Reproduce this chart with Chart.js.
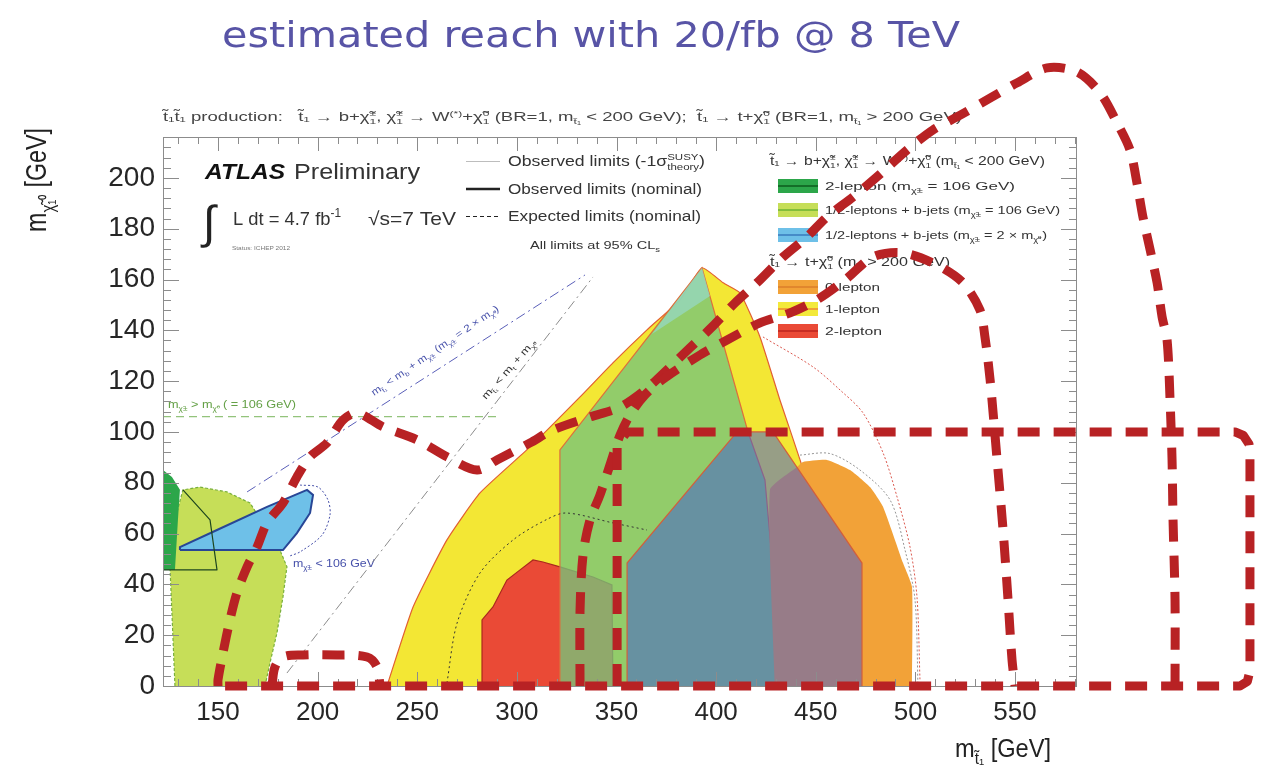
<!DOCTYPE html>
<html>
<head>
<meta charset="utf-8">
<title>stop reach 8 TeV</title>
<script src="https://cdn.jsdelivr.net/npm/chart.js@4.4.1/dist/chart.umd.min.js"></script>
<style>
html, body { margin: 0; padding: 0; background: #fff; }
canvas { display: block; }
</style>
</head>
<body>
<canvas id="reach-chart" width="1268" height="770"></canvas>
<script>
// axis ranges and tick labels
const xRange = [122.4, 581.1];
const yRange = [0, 216.1];
const xTicks = [150, 200, 250, 300, 350, 400, 450, 500, 550];
const yTicks = [0, 20, 40, 60, 80, 100, 120, 140, 160, 180, 200];

// t1 -> b + chargino corner (m_stop < 200)
const lightGreenLeft = [[128.4,0],[125.9,46.9],[128.4,65.4],[132.4,77.2],[141.0,78.3],[154.5,76.4],[166.1,72.0],[181.1,53.5],[184.6,46.9],[182.6,35.0],[179.6,20.9],[176.1,9.1],[173.6,0]];
const darkGreenLeft = [[122.4,85.0],[126.9,82.3],[130.9,77.2],[129.9,65.4],[128.4,45.7],[122.4,45.7]];
const blueLeft = [[130.9,53.5],[130.9,54.7],[149.5,61.4],[174.6,70.5],[194.7,77.2],[197.7,75.2],[196.2,68.1],[189.6,60.2],[182.6,53.5],[130.9,53.5]];
const blueLeftExpected = [[191.2,79.1],[200.2,78.3],[205.2,73.2],[206.2,67.3],[202.2,59.4],[191.2,52.8],[186.1,51.2]];
const blackLeftObserved = [[132.4,77.2],[146.0,65.4],[149.5,45.7],[122.4,45.7]];

// t1 -> t + neutralino (m_stop > 200)
const yellowT = [[234.8,0],[247.9,31.1],[264.9,57.5],[281.5,76.0],[306.6,94.1],[331.7,113.8],[348.2,127.2],[365.3,140.2],[381.9,152.0],[392.9,164.6],[403.5,158.7],[412.0,154.7],[422.0,137.4],[432.0,112.6],[442.1,89.0],[457.2,49.6],[467.2,0]];
const redT = [[282.5,0],[282.5,26.0],[288.0,31.1],[295.0,41.7],[301.6,45.7],[308.1,49.6],[313.1,48.8],[321.6,46.9],[338.2,42.9],[347.7,39.8],[348.2,0]];
const greenT = [[321.6,0],[321.6,92.9],[392.9,164.6],[416.0,100.0],[424.5,81.1],[433.6,0]];
const tealT = [[367.8,138.6],[392.9,164.6],[396.9,153.5]];
const orangeT = [[429.5,0],[427.0,77.2],[440.6,86.2],[443.6,88.2],[455.6,89.0],[467.2,85.0],[477.2,78.3],[483.8,70.5],[493.8,48.4],[498.3,39.0],[498.3,0]];
const overlayT = [[355.3,0],[355.3,48.4],[410.5,100.0],[428.5,100.0],[473.2,48.4],[473.2,0]];
const blackExpected = [[264.9,1.2],[270.0,24.8],[281.5,44.5],[298.1,57.5],[314.6,65.4],[324.7,68.1],[348.2,64.2],[365.3,61.4]];
const redExpected = [[423.5,137.4],[448.6,125.6],[462.2,116.5],[473.7,107.5],[483.8,91.7],[490.8,74.4],[497.3,54.7],[500.8,35.0],[502.3,2.4]];
const grayExpected = [[442.1,90.9],[457.0,91.5],[472.2,85.0],[487.3,73.2],[494.8,53.5],[499.8,33.9],[501.3,0]];

// kinematic / reference lines
const charginoLine = [[122.4,106],[291.0,106]];
const kinBLine = [[164.6,76.4],[334.2,161.8]];
const kinTLine = [[184.6,5.1],[338.2,161.0]];

// hand drawn 20/fb @ 8 TeV reach
const reachLoop = [[177.1,0],[178.6,7.5],[182.6,11.4],[192.7,12.2],[209.7,12.2],[224.8,11.4],[229.8,7.5],[231.3,0]];
const reachOuter = [[150,0],[150,2.4],[152.5,13.0],[156.0,26.0],[159.5,36.6],[164.6,46.9],[169.6,54.7],[174.6,64.2],[182.6,72.0],[189.6,82.3],[196.2,90.2],[204.7,95.7],[212.7,104.7],[219.8,107.5],[232.8,102.0],[249.9,96.9],[264.9,90.2],[280.0,85.0],[290.0,89.0],[306.6,95.7],[318.1,100.8],[336.7,105.9],[351.8,109.8],[364.3,116.5],[375.3,124.4],[386.9,133.1],[397.9,141.3],[409.5,150.8],[420.5,158.7],[433.6,168.9],[445.6,176.8],[455.6,184.6],[468.7,192.5],[480.7,200.4],[495.8,211.0],[508.8,218.9],[520.9,224.0],[535.9,230.7],[551.0,237.4],[566.1,243.3],[581.1,241.7],[592.7,233.5],[601.2,221.7],[607.7,211.0],[611.2,198.0],[614.2,184.6],[617.8,171.7],[621.3,158.7],[623.8,145.3],[626.3,136.2],[627.8,112.6],[628.8,89.0],[629.3,65.4],[630.3,33.9],[630.3,0]];
const reachInner = [[331.7,0],[331.7,29.9],[333.2,51.6],[336.7,65.4],[341.7,75.2],[346.7,87.0],[351.8,98.8],[356.8,106.7],[364.3,114.6],[374.3,121.3],[391.9,130.3],[405.5,136.2],[422.0,142.9],[437.1,146.9],[450.6,152.0],[464.7,159.8],[478.7,168.9],[493.8,170.5],[510.9,165.7],[523.9,158.7],[532.4,148.0],[534.9,137.4],[537.5,120.5],[541.0,89.0],[544.0,61.4],[546.5,33.9],[548.5,10.2],[550.0,0]];
const reachBox = [[350.3,0],[350.3,94.9],[355.3,100.0],[660.4,100.0],[664.6,98.6],[667.4,95.3],[667.9,92.0],[667.9,6.0],[666.6,1.8],[662.9,0],[150,0]];

const FONT = '"Liberation Sans", Arial, Helvetica, sans-serif';
const RED = 'rgb(184,34,36)';
const DASH = [22, 14];

function toPoints(list) {
    return list.map(p => ({x: p[0], y: p[1]}));
}

function area(list, fill, border, extra) {
    return Object.assign({
        data: toPoints(list),
        showLine: true,
        fill: 'shape',
        backgroundColor: fill,
        borderColor: border || 'rgba(0,0,0,0)',
        borderWidth: border ? 1.2 : 0,
        pointRadius: 0,
        tension: 0
    }, extra || {});
}

function curve(list, color, width, dash, extra) {
    return Object.assign({
        data: toPoints(list),
        showLine: true,
        fill: false,
        borderColor: color,
        borderWidth: width,
        borderDash: dash || [],
        borderJoinStyle: 'round',
        pointRadius: 0,
        tension: 0
    }, extra || {});
}

// small rich text: _{..} subscript, ^{..} superscript (stacks on previous sub)
function parseRich(str) {
    const out = [];
    let buf = '';
    let i = 0;
    while (i < str.length) {
        const c = str[i];
        if ((c === '_' || c === '^') && str[i + 1] === '{') {
            if (buf) out.push({t: buf, m: 0});
            buf = '';
            const j = str.indexOf('}', i);
            out.push({t: str.slice(i + 2, j), m: c === '_' ? -1 : 1});
            i = j + 1;
        } else {
            buf += c;
            i++;
        }
    }
    if (buf) out.push({t: buf, m: 0});
    return out;
}

function rich(ctx, str, x, y, opt) {
    const parts = parseRich(str);
    const style = opt.style || '';
    const fam = opt.family || FONT;
    const big = style + ' ' + opt.size + 'px ' + fam;
    const small = style + ' ' + (opt.size * 0.65).toFixed(1) + 'px ' + fam;
    ctx.save();
    ctx.translate(x, y);
    if (opt.angle) ctx.rotate(opt.angle);
    let w = 0;
    let lastSub = null;
    const items = [];
    parts.forEach(p => {
        ctx.font = p.m ? small : big;
        const pw = ctx.measureText(p.t).width;
        if (p.m === 1 && lastSub !== null) {
            items.push({p, x: lastSub});
            w = Math.max(w, lastSub + pw);
            lastSub = null;
        } else {
            items.push({p, x: w});
            lastSub = p.m === -1 ? w : null;
            w += pw;
        }
    });
    if (opt.width) ctx.scale(opt.width / w, 1);
    const x0 = opt.align === 'right' ? -w : (opt.align === 'center' ? -w / 2 : 0);
    ctx.fillStyle = opt.color || '#333';
    ctx.textBaseline = 'alphabetic';
    ctx.textAlign = 'left';
    items.forEach(it => {
        ctx.font = it.p.m ? small : big;
        const dy = it.p.m === -1 ? opt.size * 0.28 : (it.p.m === 1 ? -opt.size * 0.42 : 0);
        ctx.fillText(it.p.t, x0 + it.x, dy);
    });
    ctx.restore();
}

function drawFrame(chart) {
    const {ctx, chartArea: a, scales: {x, y}} = chart;
    ctx.save();
    ctx.strokeStyle = '#8c8c8c';
    ctx.lineWidth = 1;
    ctx.strokeRect(a.left + 0.5, a.top + 0.5, a.right - a.left - 1, a.bottom - a.top);
    ctx.beginPath();
    for (let v = 130; v <= xRange[1]; v += 10) {
        const px = Math.round(x.getPixelForValue(v)) + 0.5;
        const len = v % 50 === 0 ? 14 : 7;
        ctx.moveTo(px, a.bottom); ctx.lineTo(px, a.bottom - len);
        ctx.moveTo(px, a.top); ctx.lineTo(px, a.top + len);
    }
    for (let v = 0; v <= yRange[1]; v += 4) {
        const py = Math.round(y.getPixelForValue(v)) + 0.5;
        const len = v % 20 === 0 ? 16 : 8;
        ctx.moveTo(a.left, py); ctx.lineTo(a.left + len, py);
        ctx.moveTo(a.right, py); ctx.lineTo(a.right - len, py);
    }
    ctx.stroke();
    ctx.restore();
}

function legendBox(ctx, top, fill, line) {
    ctx.fillStyle = fill;
    ctx.fillRect(778, top, 40, 14);
    ctx.strokeStyle = line;
    ctx.lineWidth = 2;
    ctx.beginPath();
    ctx.moveTo(778, top + 7); ctx.lineTo(818, top + 7);
    ctx.stroke();
}

function drawInside(chart) {
    const ctx = chart.ctx;
    ctx.save();
    rich(ctx, 't̃₁t̃₁ production:   t̃₁ → b+χ̃_{1}^{±}, χ̃_{1}^{±} → W^{(*)}+χ̃_{1}^{0} (BR=1, m_{t̃₁} < 200 GeV);  t̃₁ → t+χ̃_{1}^{0} (BR=1, m_{t̃₁} > 200 GeV)', 163, 121, {size: 12, width: 799, color: '#444'});

    rich(ctx, 'ATLAS', 205, 179, {size: 22, style: 'italic bold', width: 80, color: '#111'});
    rich(ctx, 'Preliminary', 294, 179, {size: 22, width: 126, color: '#333'});
    rich(ctx, '∫', 203, 238, {size: 46, color: '#222'});
    rich(ctx, 'L dt = 4.7 fb^{-1}', 233, 225, {size: 19, width: 108, color: '#333'});
    rich(ctx, '√s=7 TeV', 368, 225, {size: 19, width: 88, color: '#333'});
    rich(ctx, 'Status: ICHEP 2012', 232, 250, {size: 6, width: 58, color: '#777'});

    // line style legend
    ctx.lineWidth = 1;
    ctx.strokeStyle = '#bdbdbd';
    ctx.beginPath(); ctx.moveTo(466, 161.5); ctx.lineTo(500, 161.5); ctx.stroke();
    ctx.lineWidth = 2.5;
    ctx.strokeStyle = '#222';
    ctx.beginPath(); ctx.moveTo(466, 189); ctx.lineTo(500, 189); ctx.stroke();
    ctx.lineWidth = 1;
    ctx.setLineDash([4, 3]);
    ctx.beginPath(); ctx.moveTo(466, 216.5); ctx.lineTo(500, 216.5); ctx.stroke();
    ctx.setLineDash([]);
    rich(ctx, 'Observed limits (-1σ_{theory}^{SUSY})', 508, 166, {size: 14, width: 197, color: '#333'});
    rich(ctx, 'Observed limits (nominal)', 508, 194, {size: 14, width: 194, color: '#333'});
    rich(ctx, 'Expected limits (nominal)', 508, 221, {size: 14, width: 193, color: '#333'});
    rich(ctx, 'All limits at 95% CL_{s}', 530, 249, {size: 11, width: 130, color: '#333'});

    // area legend
    rich(ctx, 't̃₁ → b+χ̃_{1}^{±}, χ̃_{1}^{±} → W^{(*)}+χ̃_{1}^{0} (m_{t̃₁} < 200 GeV)', 770, 165, {size: 12, width: 275, color: '#333'});
    legendBox(ctx, 179, 'rgb(44,166,74)', 'rgb(20,110,40)');
    legendBox(ctx, 203, 'rgb(198,222,88)', 'rgb(130,190,60)');
    legendBox(ctx, 228, 'rgb(110,192,232)', 'rgb(70,140,200)');
    rich(ctx, '2-lepton (m_{χ̃±} = 106 GeV)', 825, 190, {size: 11, width: 190, color: '#333'});
    rich(ctx, '1/2-leptons + b-jets (m_{χ̃±} = 106 GeV)', 825, 214, {size: 11, width: 235, color: '#333'});
    rich(ctx, '1/2-leptons + b-jets (m_{χ̃±} = 2 × m_{χ̃⁰})', 825, 239, {size: 11, width: 222, color: '#333'});
    rich(ctx, 't̃₁ → t+χ̃_{1}^{0} (m_{t̃₁} > 200 GeV)', 770, 266, {size: 12, width: 180, color: '#333'});
    legendBox(ctx, 280, 'rgb(242,162,56)', 'rgb(225,135,45)');
    legendBox(ctx, 302, 'rgb(243,233,58)', 'rgb(240,160,50)');
    legendBox(ctx, 324, 'rgb(234,74,54)', 'rgb(200,45,35)');
    rich(ctx, '0-lepton', 825, 291, {size: 11, width: 55, color: '#333'});
    rich(ctx, '1-lepton', 825, 313, {size: 11, width: 55, color: '#333'});
    rich(ctx, '2-lepton', 825, 335, {size: 11, width: 57, color: '#333'});

    // line annotations
    rich(ctx, 'm_{χ̃±} > m_{χ̃⁰} ( = 106 GeV)', 168, 408, {size: 10, width: 128, color: 'rgb(100,160,70)'});
    rich(ctx, 'm_{χ̃±} < 106 GeV', 293, 567, {size: 10, width: 82, color: 'rgb(70,80,170)'});
    rich(ctx, 'm_{t̃₁} < m_{b} + m_{χ̃±} (m_{χ̃±} = 2 × m_{χ̃⁰})', 374, 396, {size: 10, width: 152, angle: -0.60, color: 'rgb(70,80,170)'});
    rich(ctx, 'm_{t̃₁} < m_{t} + m_{χ̃⁰}', 486, 400, {size: 10, width: 76, angle: -0.85, color: '#333'});
    ctx.restore();
}

const decor = {
    id: 'decor',
    beforeDraw(chart) {
        const c = chart.ctx;
        c.save();
        c.fillStyle = '#fff';
        c.fillRect(0, 0, chart.width, chart.height);
        c.restore();
    },
    beforeDatasetsDraw(chart) {
        drawInside(chart);
    },
    afterDatasetDraw(chart, args) {
        if (chart.data.datasets[args.index].frameAfter) drawFrame(chart);
    },
    afterDraw(chart) {
        const c = chart.ctx;
        rich(c, 'estimated reach with 20/fb @ 8 TeV', 222, 47, {size: 36, family: '"DejaVu Sans", Verdana, sans-serif', width: 738, color: 'rgb(88,84,166)'});
        rich(c, 'm_{χ̃₁⁰} [GeV]', 46, 232, {size: 29, width: 104, angle: -Math.PI / 2, color: '#222'});
        rich(c, 'm_{t̃₁} [GeV]', 955, 757, {size: 26, width: 96, color: '#222'});
    }
};

const datasets = [
    area(lightGreenLeft, 'rgb(198,222,88)', 'rgb(120,175,60)', {borderDash: [3, 2]}),
    area(darkGreenLeft, 'rgb(44,166,74)'),
    area(blueLeft, 'rgb(110,192,232)', 'rgb(40,70,150)', {borderWidth: 2}),
    curve(blueLeftExpected, 'rgb(70,80,170)', 1, [2, 2], {tension: 0.3}),
    curve(blackLeftObserved, 'rgb(30,70,30)', 1.2),
    area(yellowT, 'rgb(243,231,52)', 'rgb(225,95,50)', {tension: 0.15}),
    area(redT, 'rgb(234,74,54)', 'rgb(170,40,30)'),
    area(greenT, 'rgba(118,196,122,0.78)', 'rgb(222,110,60)'),
    area(tealT, 'rgba(150,215,190,0.8)'),
    area(orangeT, 'rgb(242,162,56)', null, {tension: 0.15}),
    area(overlayT, 'rgba(60,85,215,0.5)', 'rgb(210,95,60)'),
    curve(blackExpected, '#333', 1, [2, 3], {tension: 0.3}),
    curve(redExpected, 'rgb(220,90,80)', 1, [2, 2], {tension: 0.3}),
    curve(grayExpected, 'rgb(150,150,150)', 1, [2, 2], {tension: 0.3}),
    curve(charginoLine, 'rgb(120,180,90)', 1, [8, 5]),
    curve(kinBLine, 'rgb(90,95,185)', 1, [10, 4, 2, 4]),
    curve(kinTLine, 'rgb(140,140,140)', 1, [10, 4, 2, 4], {frameAfter: true}),
    curve(reachLoop, RED, 9, DASH, {tension: 0.35, clip: false}),
    curve(reachOuter, RED, 9, DASH, {tension: 0.3, clip: false}),
    curve(reachInner, RED, 9, DASH, {tension: 0.3, clip: false}),
    curve(reachBox, RED, 9, DASH, {clip: false})
];
// first in list is painted first
datasets.forEach((d, i) => { d.order = datasets.length - i; });

const ctx = document.getElementById('reach-chart').getContext('2d');
new Chart(ctx, {
    type: 'scatter',
    data: {datasets: datasets},
    options: {
        responsive: false,
        animation: false,
        devicePixelRatio: 1,
        events: [],
        layout: {padding: {left: 0, right: 191, top: 137, bottom: 34}},
        plugins: {
            legend: {display: false},
            tooltip: {enabled: false}
        },
        elements: {
            point: {radius: 0, hoverRadius: 0},
            line: {capBezierPoints: false}
        },
        scales: {
            x: {
                type: 'linear',
                bounds: 'data',
                afterDataLimits: s => { s.min = xRange[0]; s.max = xRange[1]; },
                afterBuildTicks: s => {
                    s.min = xRange[0]; s.max = xRange[1];
                    s.ticks = xTicks.map(v => ({value: v}));
                },
                afterFit: s => { s.height = 50; },
                grid: {display: false, drawTicks: false},
                border: {display: false},
                ticks: {font: {family: FONT, size: 26}, color: '#262626', padding: 11, maxRotation: 0, autoSkip: false}
            },
            y: {
                type: 'linear',
                bounds: 'data',
                afterDataLimits: s => { s.min = yRange[0]; s.max = yRange[1]; },
                afterBuildTicks: s => {
                    s.min = yRange[0]; s.max = yRange[1];
                    s.ticks = yTicks.map(v => ({value: v}));
                },
                afterFit: s => { s.width = 163; },
                grid: {display: false, drawTicks: false},
                border: {display: false},
                ticks: {font: {family: FONT, size: 28}, color: '#262626', padding: 8, autoSkip: false}
            }
        }
    },
    plugins: [decor]
});
</script>
</body>
</html>
